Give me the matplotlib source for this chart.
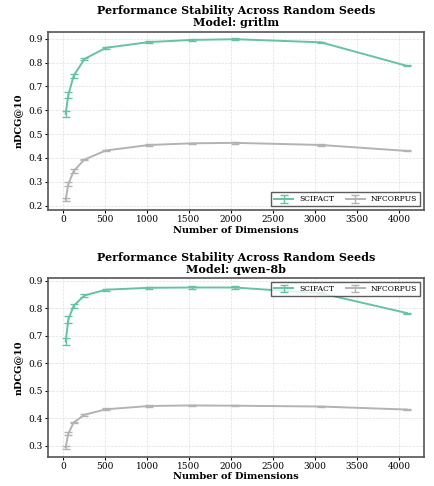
import numpy as np
import matplotlib
matplotlib.use("Agg")
import matplotlib.pyplot as plt

plt.rcParams["font.family"] = "DejaVu Serif"

dims = [32, 64, 128, 256, 512, 1024, 1536, 2048, 3072, 4096]

gritlm_scifact = [0.585, 0.665, 0.745, 0.815, 0.862, 0.886, 0.895, 0.898, 0.885, 0.786]
gritlm_scifact_err = [0.012, 0.012, 0.009, 0.005, 0.005, 0.004, 0.003, 0.004, 0.003, 0.002]
gritlm_nfcorpus = [0.225, 0.290, 0.345, 0.393, 0.431, 0.454, 0.461, 0.463, 0.454, 0.429]
gritlm_nfcorpus_err = [0.008, 0.008, 0.007, 0.004, 0.003, 0.003, 0.003, 0.003, 0.003, 0.002]

qwen_scifact = [0.680, 0.760, 0.810, 0.847, 0.868, 0.875, 0.876, 0.876, 0.855, 0.783]
qwen_scifact_err = [0.013, 0.012, 0.007, 0.006, 0.004, 0.004, 0.004, 0.004, 0.003, 0.002]
qwen_nfcorpus = [0.295, 0.345, 0.385, 0.413, 0.433, 0.445, 0.447, 0.446, 0.443, 0.432]
qwen_nfcorpus_err = [0.006, 0.005, 0.003, 0.003, 0.003, 0.003, 0.003, 0.002, 0.002, 0.002]

GREEN = "#66c2a5"
GREY = "#b3b3b3"

fig, axes = plt.subplots(2, 1, figsize=(4.35, 4.86), dpi=100)

panels = [
    ("gritlm", gritlm_scifact, gritlm_scifact_err, gritlm_nfcorpus, gritlm_nfcorpus_err, "lower right"),
    ("qwen-8b", qwen_scifact, qwen_scifact_err, qwen_nfcorpus, qwen_nfcorpus_err, "upper right"),
]

for ax, (model, sf, sfe, nf, nfe, loc) in zip(axes, panels):
    ax.errorbar(dims, sf, yerr=sfe, color=GREEN, lw=1.4, capsize=3, elinewidth=1, label="SCIFACT")
    ax.errorbar(dims, nf, yerr=nfe, color=GREY, lw=1.4, capsize=3, elinewidth=1, label="NFCORPUS")
    ax.set_title(f"Performance Stability Across Random Seeds\nModel: {model}",
                 fontsize=8, fontweight="bold", linespacing=1.1, pad=4)
    ax.set_xlabel("Number of Dimensions", fontsize=7, fontweight="bold", labelpad=1)
    ax.set_ylabel("nDCG@10", fontsize=7, fontweight="bold")
    ax.tick_params(labelsize=6.5, length=2, pad=1.5)
    ax.set_xticks(range(0, 4001, 500))
    ax.set_xlim(-180, 4300)
    ax.grid(True, ls="--", lw=0.5, alpha=0.4)
    for s in ax.spines.values():
        s.set_color("#555555")
        s.set_linewidth(1.2)
    leg = ax.legend(loc=loc, ncol=2, fontsize=5.5, frameon=True, fancybox=False,
                    edgecolor="#333333", borderpad=0.4, handlelength=2.5,
                    columnspacing=1.5)
    leg.get_frame().set_linewidth(1)

axes[0].set_ylim(0.18, 0.93)
axes[1].set_ylim(0.26, 0.91)

fig.subplots_adjust(left=0.11, right=0.975, top=0.935, bottom=0.06, hspace=0.38)
fig.savefig("out.png", dpi=100)
